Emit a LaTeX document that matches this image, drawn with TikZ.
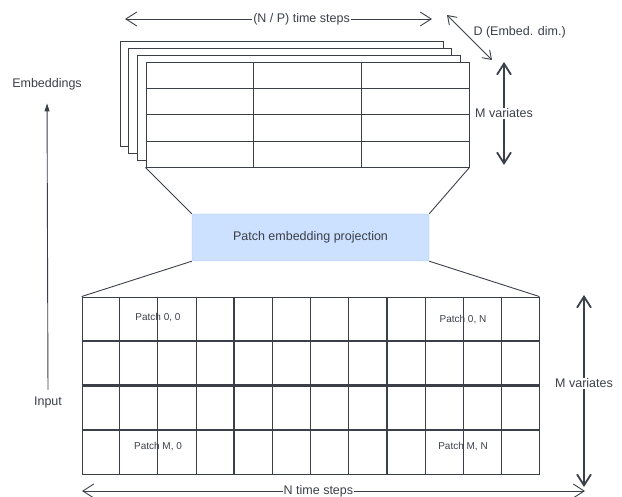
\documentclass[tikz,border=0pt]{standalone}
\usepackage{fontspec}
\setmainfont{Liberation Sans}
\usetikzlibrary{arrows.meta, calc, positioning}
\definecolor{ink}{HTML}{3B3F48}
\definecolor{projfill}{HTML}{CCE0FF}
\definecolor{projdraw}{HTML}{A8C8F5}
\tikzstyle{sheet} = [rectangle, draw=ink, fill=white, line width=0.9pt, minimum width=323pt, minimum height=105pt, inner sep=0pt]
\tikzstyle{series} = [rectangle, draw=ink, line width=0.9pt, minimum width=457pt, minimum height=177pt, inner sep=0pt]
\tikzstyle{proj} = [rectangle, rounded corners=2pt, draw=projdraw, fill=projfill, minimum width=237pt, minimum height=47pt, text=ink, font=\fontsize{12.5}{15}\selectfont]
\tikzstyle{lbl} = [text=ink, font=\fontsize{12.5}{15}\selectfont]
\tikzstyle{patch} = [text=ink, font=\fontsize{10}{12}\selectfont]
\tikzstyle{dim} = [ink, line width=0.9pt, <->, >={Straight Barb[length=11pt,width=14pt]}]
\tikzstyle{bigdim} = [dim, line width=1.8pt]
\tikzstyle{thinline} = [ink, line width=0.9pt]
\tikzstyle{thickline} = [ink, line width=2.4pt]

\begin{document}
\begin{tikzpicture}[x=1pt, y=-1pt]
    \useasboundingbox (0,0) rectangle (622,497);

    % Embedding sheets
    \foreach \i/\cx/\cy in {1/281.5/93.5, 2/290/100.5, 3/298.5/107.5}
        \node (sheet\i) [sheet] at (\cx,\cy) {};
    \node (emb) [sheet] at (307.5,114.5) {};
    \foreach \k in {1,2,3}
        \draw [thinline] ($(emb.north west)!\k/4!(emb.south west)$) -- ($(emb.north east)!\k/4!(emb.south east)$);
    \foreach \k in {1,2}
        \draw [thinline] ($(emb.north west)!\k/3!(emb.north east)$) -- ($(emb.south west)!\k/3!(emb.south east)$);

    % Projection
    \node (proj) [proj] at (310.5,237.5) {Patch embedding projection};

    % Input series
    \node (inp) [series] at (310.5,385.5) {};
    \foreach \k in {1,2,3,5,6,7,9,10,11}
        \draw [thinline] ($(inp.north west)!\k/12!(inp.north east)$) -- ($(inp.south west)!\k/12!(inp.south east)$);
    \foreach \k in {4,8}
        \draw [thickline] ($(inp.north west)!\k/12!(inp.north east)$) -- ($(inp.south west)!\k/12!(inp.south east)$);
    \foreach \k in {1,2,3}
        \draw [thickline] ($(inp.north west)!\k/4!(inp.south west)$) -- ($(inp.north east)!\k/4!(inp.south east)$);

    \node (p00) [patch] at (158,318) {Patch 0, 0};
    \node (p0n) [patch] at (463,320) {Patch 0, N};
    \node (pm0) [patch] at (158,447) {Patch M, 0};
    \node (pmn) [patch] at (463,447) {Patch M, N};

    % Funnel lines
    \draw [thinline] (emb.south west) -- (proj.north west);
    \draw [thinline] (emb.south east) -- (proj.north east);
    \draw [thinline] (proj.south west) -- (inp.north west);
    \draw [thinline] (proj.south east) -- (inp.north east);

    % Dimension arrows
    \coordinate (np1) at (125,19);
    \coordinate (np2) at (432,19);
    \draw [dim] (np1) -- node[lbl, fill=white, inner sep=1pt, pos=0.575] (nplbl) {(N / P) time steps} (np2);

    \coordinate (d1) at (447,15);
    \coordinate (d2) at (492,60);
    \draw [dim, >={Straight Barb[length=8pt,width=11pt]}] (d1) -- (d2);
    \node (dlbl) [lbl, anchor=west] at (470,32) {D (Embed. dim.)};

    \coordinate (mv1) at (504,62);
    \coordinate (mv2) at (504,165);
    \draw [bigdim] (mv1) -- node[lbl, fill=white, inner sep=1pt] (mvlbl) {M variates} (mv2);

    \coordinate (iv1) at (584,295);
    \coordinate (iv2) at (584,487);
    \draw [bigdim] (iv1) -- node[lbl, fill=white, inner sep=1pt, pos=0.46] (ivlbl) {M variates} (iv2);

    \coordinate (nt1) at (82,491);
    \coordinate (nt2) at (585,491);
    \draw [dim] (nt1) -- node[lbl, fill=white, inner sep=1pt, pos=0.47] (ntlbl) {N time steps} (nt2);

    % Flow direction
    \node (emblbl) [lbl] at (47,84) {Embeddings};
    \node (inlbl) [lbl] at (48,402) {Input};
    \draw [thinline, -{Triangle[length=8pt,width=5pt]}, shorten <=3pt, shorten >=10pt] (inlbl.north) -- (emblbl.south);

\end{tikzpicture}
\end{document}
